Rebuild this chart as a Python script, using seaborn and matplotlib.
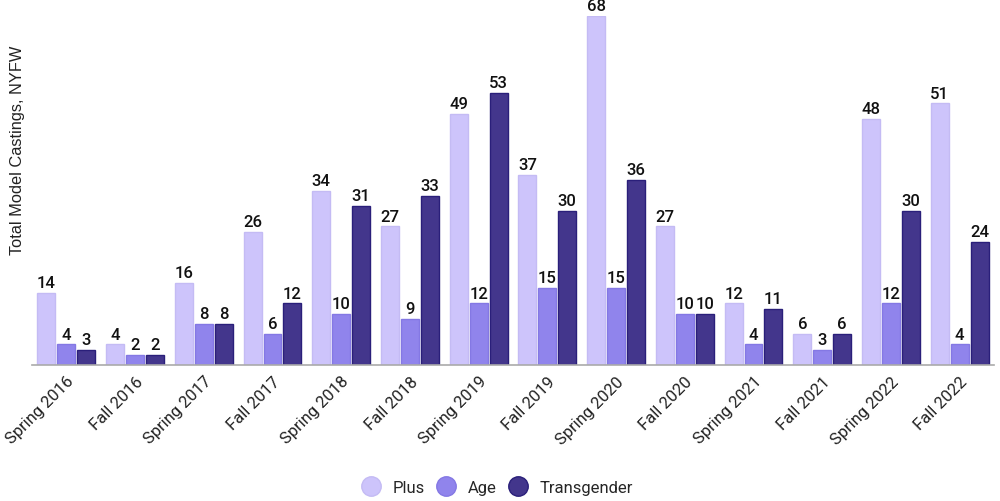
import pandas as pd
import matplotlib.pyplot as plt
import seaborn as sns
from matplotlib.lines import Line2D

sns.set_style("white")
plt.rcParams['font.family'] = ['Roboto', 'DejaVu Sans']

# Data
seasons = ["Spring 2016", "Fall 2016", "Spring 2017", "Fall 2017", "Spring 2018",
           "Fall 2018", "Spring 2019", "Fall 2019", "Spring 2020", "Fall 2020",
           "Spring 2021", "Fall 2021", "Spring 2022", "Fall 2022"]
plus = [14, 4, 16, 26, 34, 27, 49, 37, 68, 27, 12, 6, 48, 51]
age = [4, 2, 8, 6, 10, 9, 12, 15, 15, 10, 4, 3, 12, 4]
transgender = [3, 2, 8, 12, 31, 33, 53, 30, 36, 10, 11, 6, 30, 24]

categories = ["Plus", "Age", "Transgender"]
colors = ["#cdc4fb", "#9084ec", "#43368c"]
edges = ["#c4bbf4", "#8478e4", "#2a1f7a"]

df = pd.DataFrame({"season": seasons * 3,
                   "category": ["Plus"] * 14 + ["Age"] * 14 + ["Transgender"] * 14,
                   "value": plus + age + transgender})

fig = plt.figure(figsize=(10, 5.02), dpi=100)
ax = fig.add_axes([0.032, 0.271, 0.962, 0.695])

sns.barplot(data=df, x="season", y="value", hue="category", hue_order=categories,
            palette=colors, saturation=1, width=0.87, gap=0.1, ax=ax, legend=False)

for container, ec in zip(ax.containers, edges):
    for bar in container:
        bar.set_edgecolor(ec)
        bar.set_linewidth(1)
    ax.bar_label(container, fontsize=12, fontweight="medium", padding=2, color="#111111")

ax.set_ylim(0, 68)
ax.set_xlim(-0.5, len(seasons) - 0.5)
ax.set_yticks([])
ax.set_xlabel("")
ax.set_ylabel("")
fig.text(0.018, 0.70, "Total Model Castings, NYFW", rotation=90, ha="center", va="center",
         fontsize=11.8, family=["Liberation Sans", "DejaVu Sans"], color="#222222")
ax.set_xticks(range(len(seasons)))
ax.set_xticklabels(seasons, rotation=45, ha="right", rotation_mode="anchor", fontsize=12, color="#222222")
ax.tick_params(axis="x", length=0, pad=6)
for s in ["top", "right", "left"]:
    ax.spines[s].set_visible(False)
ax.spines["bottom"].set_color("#aaaaaa")
ax.spines["bottom"].set_linewidth(1.2)
for t in ax.texts:
    t.set_clip_on(False)

handles = [Line2D([0], [0], marker="o", linestyle="", markersize=14, markerfacecolor=c,
                  markeredgecolor=e) for c, e in zip(colors, edges)]
fig.legend(handles, categories, loc="center", bbox_to_anchor=(0.497, 0.027), ncol=3,
           frameon=False, fontsize=12, handlelength=1.2, handletextpad=0.7, columnspacing=0.7)

plt.savefig("out.png", dpi=100)
